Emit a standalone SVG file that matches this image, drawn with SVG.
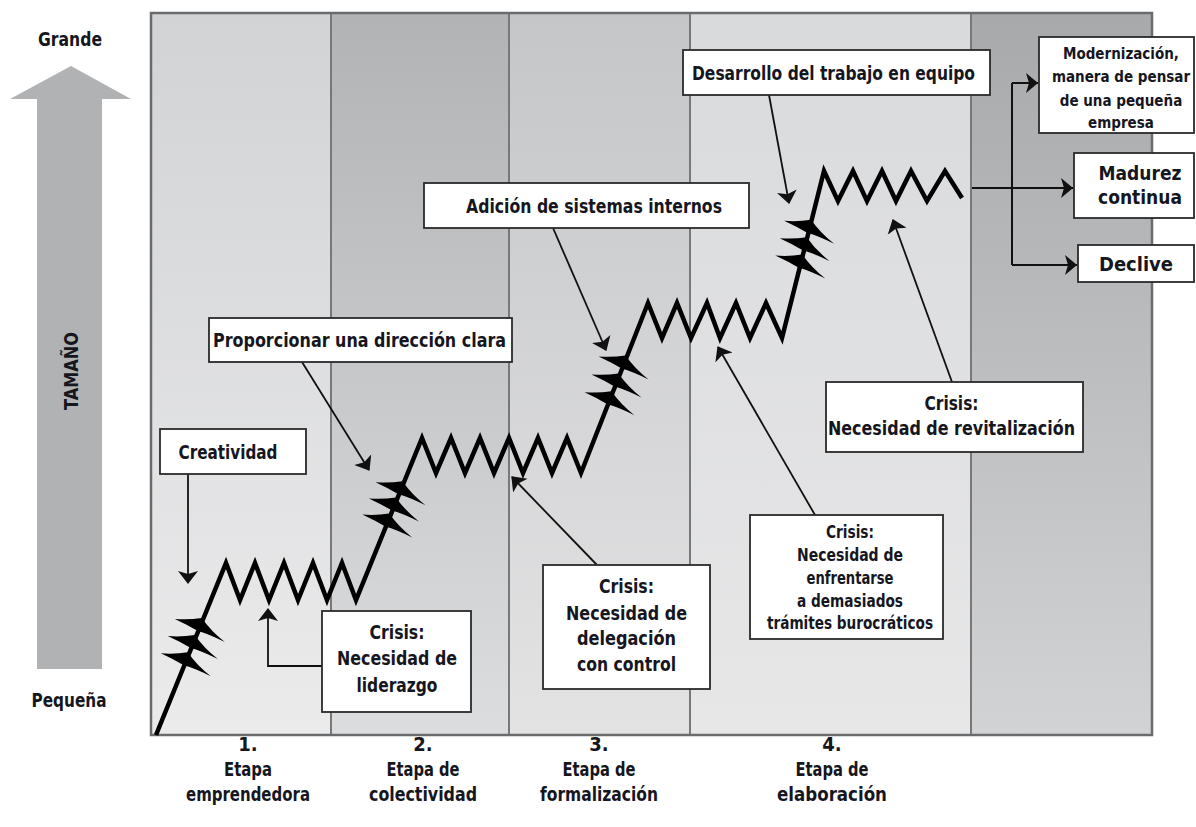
<svg xmlns="http://www.w3.org/2000/svg" width="1196" height="827" viewBox="0 0 1196 827">
<style>
text{font-family:"Liberation Sans Narrow","DejaVu Sans Condensed","Liberation Sans",sans-serif;font-weight:bold;fill:#16161e;text-anchor:middle;font-size:20px}
.sm{font-size:17px}
.xs{font-size:15px}
.md{font-size:19px}
.box{fill:#fff;stroke:#2a2a2a;stroke-width:1.8}
.con{fill:none;stroke:#111;stroke-width:1.8}
.conr{fill:none;stroke:#111;stroke-width:2}
.zig{fill:none;stroke:#000;stroke-width:4.5;stroke-linejoin:miter;stroke-miterlimit:10}
.div{stroke:#77787a;stroke-width:2}
</style>
<defs>
<linearGradient id="g1" x1="0" y1="0" x2="0" y2="1"><stop offset="0" stop-color="#d2d3d5"/><stop offset="1" stop-color="#ebebec"/></linearGradient>
<linearGradient id="g2" x1="0" y1="0" x2="0" y2="1"><stop offset="0" stop-color="#b2b3b5"/><stop offset="1" stop-color="#dcdddf"/></linearGradient>
<linearGradient id="g3" x1="0" y1="0" x2="0" y2="1"><stop offset="0" stop-color="#c5c6c8"/><stop offset="1" stop-color="#e3e3e4"/></linearGradient>
<linearGradient id="g4" x1="0" y1="0" x2="0" y2="1"><stop offset="0" stop-color="#d9dadc"/><stop offset="1" stop-color="#e7e7e8"/></linearGradient>
<linearGradient id="g5" x1="0" y1="0" x2="0" y2="1"><stop offset="0" stop-color="#a8a9ab"/><stop offset="1" stop-color="#d2d3d5"/></linearGradient>
<marker id="ah" markerUnits="userSpaceOnUse" markerWidth="14" markerHeight="22" refX="12" refY="11" orient="auto">
<path d="M0,1 L13,11 L0,21 L3,11 Z" fill="#111"/>
</marker>
<marker id="ahr" markerUnits="userSpaceOnUse" markerWidth="14" markerHeight="22" refX="12" refY="11" orient="auto">
<path d="M0,1 L12,11 L0,21 L3,11 Z" fill="#111"/>
</marker>
<path id="barb" d="M-26,-6 Q-12,-5 1,-7 Q10,6 24,17 Q8,9 -3,6 Q-13,0 -26,-6 Z" fill="#000"/>
</defs>

<g id="background">
<rect x="151" y="13" width="180" height="722" fill="url(#g1)"/>
<rect x="331" y="13" width="178" height="722" fill="url(#g2)"/>
<rect x="509" y="13" width="181" height="722" fill="url(#g3)"/>
<rect x="690" y="13" width="281" height="722" fill="url(#g4)"/>
<rect x="971" y="13" width="181" height="722" fill="url(#g5)"/>
<line class="div" x1="331" y1="13" x2="331" y2="735"/>
<line class="div" x1="509" y1="13" x2="509" y2="735"/>
<line class="div" x1="690" y1="13" x2="690" y2="735"/>
<line class="div" x1="971" y1="13" x2="971" y2="735"/>
<rect x="151" y="13" width="1001" height="722" fill="none" stroke="#6a6b6d" stroke-width="2.5"/>
</g>

<g id="axis">
<polygon points="10,99 71,66 131,99 102,99 102,669 37,669 37,99" fill="#b1b2b4"/>
<text x="70" y="46" textLength="64" lengthAdjust="spacingAndGlyphs">Grande</text>
<text x="69" y="707" textLength="75" lengthAdjust="spacingAndGlyphs">Pequeña</text>
<text x="0" y="0" class="md" textLength="78" lengthAdjust="spacingAndGlyphs" transform="translate(78,371) rotate(-90)">TAMAÑO</text>
</g>

<g id="growth-line">
<path class="zig" d="M156,735 L226,563 L240,600 L255,563 L269,600 L284,563 L298,600 L313,563 L327,600 L342,563 L356,600 L422,438 L436,473 L451,438 L465,473 L480,438 L494,473 L509,438 L523,473 L538,438 L552,473 L567,438 L581,473 L648,303 L662,338 L677,303 L691,338 L707,303 L720,338 L736,303 L750,338 L766,303 L782,338 L824,171 L838,201 L853,171 L867,201 L882,171 L896,201 L911,171 L927,201 L945,171 L962,198"/>
<use href="#barb" x="186.8" y="659.3"/>
<use href="#barb" x="193.8" y="642.1"/>
<use href="#barb" x="200.8" y="624.9"/>
<use href="#barb" x="388.3" y="520.6"/>
<use href="#barb" x="394.9" y="504.4"/>
<use href="#barb" x="401.5" y="488.2"/>
<use href="#barb" x="610.5" y="398.2"/>
<use href="#barb" x="617.5" y="380.4"/>
<use href="#barb" x="624.6" y="362.5"/>
<use href="#barb" x="801.3" y="261.6"/>
<use href="#barb" x="805.7" y="244.2"/>
<use href="#barb" x="810.1" y="226.8"/>
</g>

<g id="connectors">
<path class="con" d="M188,474 L188,583" marker-end="url(#ah)"/>
<path class="con" d="M322,666 L268,666 L268,609" marker-end="url(#ah)"/>
<path class="con" d="M302,362 L369,470" marker-end="url(#ah)"/>
<path class="con" d="M553,228 L606,350" marker-end="url(#ah)"/>
<path class="con" d="M597,565 L512,477" marker-end="url(#ah)"/>
<path class="con" d="M815,515 L718,347" marker-end="url(#ah)"/>
<path class="con" d="M952,382 L893,220" marker-end="url(#ah)"/>
<path class="con" d="M769,95 L789,203" marker-end="url(#ah)"/>
<path class="conr" d="M972,188 L1073,188" marker-end="url(#ahr)"/>
<path class="conr" d="M1012,83 L1012,265"/>
<path class="conr" d="M1012,83 L1038,83" marker-end="url(#ahr)"/>
<path class="conr" d="M1012,265 L1077,265" marker-end="url(#ahr)"/>
</g>

<g id="creatividad">
<rect class="box" x="160" y="429" width="146" height="45"/>
<text x="228" y="459" textLength="99" lengthAdjust="spacingAndGlyphs">Creatividad</text>
</g>
<g id="crisis-liderazgo">
<rect class="box" x="322" y="611" width="149" height="101"/>
<text x="397" y="639" textLength="55" lengthAdjust="spacingAndGlyphs">Crisis:</text>
<text x="397" y="665" textLength="120" lengthAdjust="spacingAndGlyphs">Necesidad de</text>
<text x="397" y="692" textLength="81" lengthAdjust="spacingAndGlyphs">liderazgo</text>
</g>
<g id="direccion-clara">
<rect class="box" x="209" y="318" width="303" height="44"/>
<text x="359.5" y="347" textLength="293" lengthAdjust="spacingAndGlyphs">Proporcionar una dirección clara</text>
</g>
<g id="sistemas-internos">
<rect class="box" x="424" y="183" width="325" height="45"/>
<text x="594" y="213" textLength="256" lengthAdjust="spacingAndGlyphs">Adición de sistemas internos</text>
</g>
<g id="crisis-delegacion">
<rect class="box" x="543" y="565" width="167" height="124"/>
<text x="626.5" y="593" textLength="55" lengthAdjust="spacingAndGlyphs">Crisis:</text>
<text x="626.5" y="620" textLength="121" lengthAdjust="spacingAndGlyphs">Necesidad de</text>
<text x="626.5" y="645" textLength="99" lengthAdjust="spacingAndGlyphs">delegación</text>
<text x="626.5" y="671" textLength="99" lengthAdjust="spacingAndGlyphs">con control</text>
</g>
<g id="crisis-burocracia">
<rect class="box" x="750" y="515" width="193" height="124"/>
<text class="sm" x="850" y="538" textLength="48" lengthAdjust="spacingAndGlyphs">Crisis:</text>
<text class="sm" x="850" y="561" textLength="106" lengthAdjust="spacingAndGlyphs">Necesidad de</text>
<text class="sm" x="850" y="584" textLength="87" lengthAdjust="spacingAndGlyphs">enfrentarse</text>
<text class="sm" x="850" y="607" textLength="106" lengthAdjust="spacingAndGlyphs">a demasiados</text>
<text class="sm" x="850" y="629" textLength="166" lengthAdjust="spacingAndGlyphs">trámites burocráticos</text>
</g>
<g id="crisis-revitalizacion">
<rect class="box" x="826" y="382" width="257" height="70"/>
<text x="951.5" y="410" textLength="54" lengthAdjust="spacingAndGlyphs">Crisis:</text>
<text x="951.5" y="435" textLength="247" lengthAdjust="spacingAndGlyphs">Necesidad de revitalización</text>
</g>
<g id="trabajo-equipo">
<rect class="box" x="683" y="50" width="307" height="45"/>
<text x="833.5" y="80" textLength="283" lengthAdjust="spacingAndGlyphs">Desarrollo del trabajo en equipo</text>
</g>
<g id="modernizacion">
<rect class="box" x="1039" y="37" width="155" height="96"/>
<text class="xs" x="1121" y="59">Modernización,</text>
<text class="xs" x="1121" y="82">manera de pensar</text>
<text class="xs" x="1121" y="106">de una pequeña</text>
<text class="xs" x="1121" y="128">empresa</text>
</g>
<g id="madurez">
<rect class="box" x="1074" y="153" width="120" height="65"/>
<text class="md" x="1140" y="180">Madurez</text>
<text class="md" x="1140" y="204">continua</text>
</g>
<g id="declive">
<rect class="box" x="1078" y="245" width="116" height="37"/>
<text x="1136" y="271">Declive</text>
</g>

<g id="stage-labels">
<text x="248" y="751">1.</text>
<text x="248" y="776" textLength="48" lengthAdjust="spacingAndGlyphs">Etapa</text>
<text x="248" y="801" textLength="124" lengthAdjust="spacingAndGlyphs">emprendedora</text>
<text x="423" y="751">2.</text>
<text x="423" y="776" textLength="73" lengthAdjust="spacingAndGlyphs">Etapa de</text>
<text x="423" y="801" textLength="108" lengthAdjust="spacingAndGlyphs">colectividad</text>
<text x="599" y="751">3.</text>
<text x="599" y="776" textLength="73" lengthAdjust="spacingAndGlyphs">Etapa de</text>
<text x="599" y="801" textLength="118" lengthAdjust="spacingAndGlyphs">formalización</text>
<text x="832" y="751">4.</text>
<text x="832" y="776" textLength="73" lengthAdjust="spacingAndGlyphs">Etapa de</text>
<text x="832" y="801" textLength="110" lengthAdjust="spacingAndGlyphs">elaboración</text>
</g>
</svg>
